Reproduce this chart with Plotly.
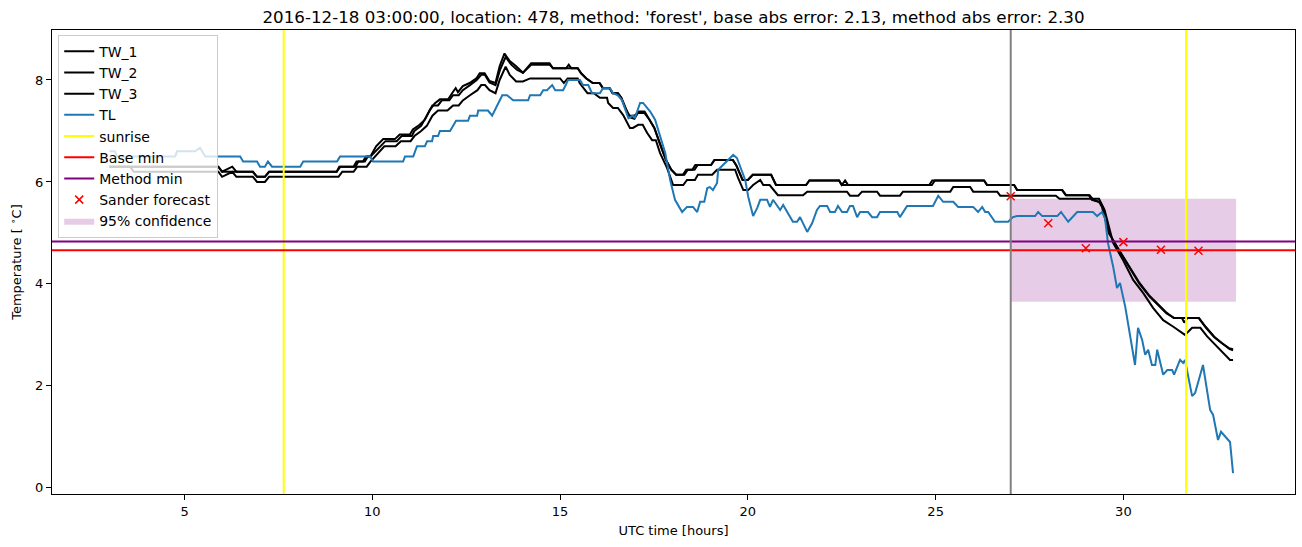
import plotly.graph_objects as go

# ---------------- data (hours UTC, temperature degC) ----------------
tl_hours = [3.0, 3.15, 3.2, 4.75, 4.8, 5.28, 5.41, 5.55, 6.48, 6.56, 6.93, 7.01, 7.14, 7.22, 7.33,
            8.08, 8.16, 9.06, 9.14, 9.94, 10.02, 10.82, 10.87, 11.09, 11.19, 11.4, 11.46, 11.59,
            11.62, 11.75, 11.8, 12.07, 12.23, 12.55, 12.6, 12.79, 12.82, 13.08, 13.19, 13.33,
            13.46, 13.59, 13.75, 14.15, 14.2, 14.47, 14.55, 14.65, 14.79, 14.87, 15.08, 15.15,
            15.21, 15.53, 15.61, 15.75, 15.85, 16.06, 16.14, 16.33, 16.41, 16.54, 16.65, 16.82,
            16.94, 16.99, 17.13, 17.21, 17.4, 17.53, 17.66, 17.8, 17.93, 18.06, 18.25, 18.38,
            18.54, 18.65, 18.73, 18.84, 18.92, 18.99, 19.07, 19.18, 19.21, 19.34, 19.47, 19.61,
            19.71, 19.79, 19.93, 20.01, 20.14, 20.25, 20.33, 20.51, 20.59, 20.67, 20.86, 20.94,
            20.99, 21.2, 21.31, 21.39, 21.58, 21.71, 21.84, 21.92, 22.11, 22.19, 22.32, 22.4,
            22.51, 22.64, 22.72, 22.8, 22.91, 22.99, 23.2, 23.31, 23.44, 23.52, 23.98, 24.05,
            24.24, 24.93, 25.07, 25.2, 25.47, 25.6, 26.0, 26.13, 26.24, 26.32, 26.4, 26.58,
            26.93, 27.06, 27.17, 27.65, 27.73, 27.84, 28.24, 28.34, 28.53, 28.77, 29.19, 29.3,
            29.43, 29.51, 29.59, 29.73, 29.83, 29.91, 30.05, 30.18, 30.31, 30.39, 30.5, 30.58,
            30.66, 30.76, 30.85, 30.9, 31.06, 31.17, 31.3, 31.35, 31.51, 31.59, 31.64, 31.83,
            31.91, 32.12, 32.31, 32.39, 32.52, 32.6, 32.84, 32.92]
tl_values = [6.6, 6.6, 6.5, 6.5, 6.6, 6.6, 6.67, 6.5, 6.5, 6.4, 6.4, 6.3, 6.3, 6.4, 6.3,
             6.3, 6.4, 6.4, 6.5, 6.5, 6.4, 6.4, 6.5, 6.5, 6.7, 6.7, 6.8, 6.8,
             6.9, 6.9, 7.0, 7.0, 7.2, 7.2, 7.3, 7.3, 7.4, 7.4, 7.3, 7.5,
             7.7, 7.7, 7.6, 7.6, 7.7, 7.7, 7.8, 7.8, 7.9, 7.8, 7.8, 7.9,
             8.0, 8.0, 7.9, 7.9, 7.74, 7.74, 7.84, 7.84, 7.74, 7.7, 7.6, 7.25,
             7.3, 7.25, 7.55, 7.55, 7.38, 7.22, 6.92, 6.57, 6.04, 5.65, 5.41, 5.51,
             5.51, 5.41, 5.61, 5.61, 5.88, 5.9, 5.84, 5.98, 6.24, 6.33, 6.43, 6.53,
             6.47, 6.3, 6.04, 5.71, 5.33, 5.49, 5.65, 5.65, 5.51, 5.65, 5.45, 5.55,
             5.49, 5.22, 5.22, 5.31, 5.02, 5.19, 5.45, 5.53, 5.53, 5.41, 5.41, 5.53,
             5.41, 5.41, 5.53, 5.53, 5.31, 5.41, 5.41, 5.31, 5.31, 5.41, 5.41, 5.31,
             5.53, 5.53, 5.73, 5.61, 5.61, 5.51, 5.51, 5.41, 5.51, 5.41, 5.41, 5.22,
             5.22, 5.31, 5.33, 5.33, 5.41, 5.33, 5.33, 5.41, 5.22, 5.41, 5.41, 5.33,
             5.41, 5.29, 4.8, 4.33, 3.92, 4.02, 3.55, 2.96, 2.41, 3.14, 2.9, 2.61,
             2.71, 2.41, 2.41, 2.71, 2.22, 2.31, 2.31, 2.22, 2.51, 2.45, 2.51, 1.8,
             1.86, 2.41, 1.53, 1.43, 0.94, 1.1, 0.9, 0.29]

tw1_hours = [3.0, 5.9, 6.0, 6.27, 6.38, 6.82, 6.93, 7.14, 7.25, 9.05, 9.12, 9.5, 9.58, 9.75,
             9.83, 9.95, 10.1, 10.29, 10.6, 10.73, 11.0, 11.08, 11.26, 11.4, 11.53, 11.66,
             11.8, 12.02, 12.15, 12.22, 12.28, 12.41, 12.59, 12.77, 12.86, 12.99, 13.12, 13.28,
             13.39, 13.52, 13.66, 13.83, 14.01, 14.23, 14.72, 14.81, 15.16, 15.23, 15.3, 15.47,
             15.56, 15.7, 15.87, 16.05, 16.14, 16.32, 16.4, 16.54, 16.63, 16.76, 16.85, 16.98,
             17.07, 17.25, 17.38, 17.51, 17.65, 17.82, 17.96, 18.09, 18.31, 18.4, 18.58, 18.66,
             19.02, 19.11, 19.6, 19.69, 19.86, 20.0, 20.13, 20.62, 20.75, 21.55, 21.64, 22.43,
             22.5, 22.59, 22.67, 24.83, 24.91, 26.29, 26.37, 27.09, 27.17, 28.37, 28.47, 29.08,
             29.16, 29.35, 29.43, 29.61, 29.88, 30.15, 30.41, 30.68, 30.94, 31.13, 31.34, 32.01,
             32.19, 32.41, 32.62, 32.81, 32.92]
tw1_values = [6.3, 6.3, 6.2, 6.3, 6.2, 6.2, 6.1, 6.1, 6.2, 6.2, 6.3, 6.3, 6.4, 6.4,
              6.5, 6.5, 6.7, 6.84, 6.84, 6.93, 6.93, 7.03, 7.12, 7.22, 7.41, 7.54,
              7.62, 7.62, 7.77, 7.84, 7.76, 7.88, 7.94, 8.03, 8.13, 8.13, 7.98, 7.94,
              8.27, 8.52, 8.37, 8.27, 8.14, 8.33, 8.33, 8.23, 8.23, 8.3, 8.23, 8.23,
              8.13, 8.03, 7.94, 7.94, 7.84, 7.84, 7.74, 7.74, 7.65, 7.41, 7.27, 7.24,
              7.35, 7.35, 7.22, 7.06, 6.76, 6.43, 6.24, 6.14, 6.14, 6.24, 6.24, 6.33,
              6.33, 6.43, 6.43, 6.33, 6.04, 6.04, 6.14, 6.14, 5.94, 5.94, 6.03, 6.03,
              5.94, 6.03, 5.94, 5.94, 6.03, 6.03, 5.94, 5.94, 5.84, 5.84, 5.74, 5.74,
              5.65, 5.61, 5.51, 5.0, 4.67, 4.34, 4.04, 3.78, 3.59, 3.45, 3.33, 3.33,
              3.16, 2.97, 2.84, 2.74, 2.72]

tw2_hours = [3.0, 5.9, 6.0, 6.82, 6.93, 7.14, 7.25, 9.05, 9.15, 9.55, 9.63, 9.8, 9.88, 9.95,
             10.35, 10.65, 10.78, 11.05, 11.12, 11.3, 11.45, 11.6, 11.75, 11.85, 12.05, 12.15,
             12.3, 12.41, 12.6, 12.78, 12.9, 13.0, 13.12, 13.28, 13.4, 13.55, 13.7, 13.85,
             14.01, 14.23, 14.72, 14.81, 15.16, 15.47, 15.56, 15.7, 15.87, 16.05, 16.14, 16.32,
             16.4, 16.54, 16.63, 16.76, 16.85, 16.98, 17.1, 17.25, 17.38, 17.51, 17.65, 17.82,
             17.96, 18.09, 18.27, 18.36, 18.52, 18.6, 19.02, 19.11, 19.6, 19.69, 19.86, 20.0,
             20.13, 20.62, 20.75, 21.55, 21.64, 22.43, 22.5, 24.9, 24.98, 26.29, 26.37, 27.09,
             27.17, 28.37, 28.47, 29.1, 29.2, 29.38, 29.46, 29.63, 29.9, 30.17, 30.43, 30.7,
             30.96, 31.15, 31.36, 31.56, 31.62, 31.7, 32.01, 32.2, 32.43, 32.64, 32.83, 32.92]
tw2_values = [6.3, 6.3, 6.2, 6.2, 6.1, 6.1, 6.2, 6.2, 6.3, 6.3, 6.4, 6.4, 6.5, 6.5,
              6.8, 6.8, 6.9, 6.9, 7.0, 7.1, 7.3, 7.5, 7.5, 7.6, 7.6, 7.7,
              7.7, 7.8, 7.9, 8.0, 8.1, 8.1, 7.95, 7.9, 8.2, 8.45, 8.3, 8.2,
              8.14, 8.3, 8.3, 8.23, 8.23, 8.23, 8.13, 8.03, 7.94, 7.94, 7.84, 7.84,
              7.74, 7.74, 7.65, 7.41, 7.3, 7.3, 7.38, 7.38, 7.22, 7.06, 6.76, 6.43,
              6.24, 6.14, 6.14, 6.24, 6.24, 6.33, 6.33, 6.43, 6.43, 6.33, 6.04, 6.04,
              6.14, 6.14, 5.94, 5.94, 6.03, 6.03, 5.94, 5.94, 6.03, 6.03, 5.94, 5.94,
              5.84, 5.84, 5.74, 5.74, 5.65, 5.6, 5.5, 4.98, 4.64, 4.3, 4.0, 3.75,
              3.56, 3.42, 3.33, 3.33, 3.24, 3.33, 3.33, 3.14, 2.95, 2.82, 2.72, 2.7]

tw3_hours = [3.0, 3.55, 3.65, 5.9, 6.0, 6.27, 6.38, 6.82, 6.93, 7.14, 7.25, 9.1, 9.2, 9.5,
             9.6, 9.85, 9.95, 10.32, 10.62, 10.76, 11.02, 11.12, 11.3, 11.45, 11.6, 11.75,
             12.0, 12.15, 12.3, 12.41, 12.6, 12.8, 12.9, 13.0, 13.12, 13.28, 13.39, 13.55,
             13.66, 13.83, 14.01, 14.2, 15.0, 15.1, 15.2, 15.47, 15.52, 15.73, 15.9, 16.06,
             16.25, 16.28, 16.41, 16.54, 16.68, 16.86, 16.94, 17.08, 17.2, 17.32, 17.45, 17.55,
             17.66, 17.85, 18.01, 18.28, 18.38, 18.59, 18.67, 19.05, 19.18, 19.66, 19.74, 19.88,
             20.01, 20.14, 20.33, 20.41, 20.58, 20.8, 21.47, 21.58, 22.64, 22.72, 22.94, 23.04,
             23.44, 23.52, 24.05, 24.13, 25.39, 25.47, 25.92, 26.0, 26.64, 26.72, 28.2, 28.3,
             29.35, 29.5, 29.73, 29.99, 30.26, 30.53, 30.79, 31.06, 31.33, 31.56, 31.64, 31.83,
             32.05, 32.23, 32.5, 32.66, 32.84, 32.92]
tw3_values = [6.3, 6.3, 6.2, 6.2, 6.1, 6.2, 6.1, 6.1, 6.0, 6.0, 6.1, 6.1, 6.2, 6.2,
              6.3, 6.3, 6.4, 6.7, 6.7, 6.8, 6.8, 6.9, 7.0, 7.1, 7.3, 7.4,
              7.4, 7.5, 7.5, 7.6, 7.7, 7.8, 7.9, 7.9, 7.8, 7.74, 8.0, 8.26,
              8.1, 7.97, 7.97, 8.03, 8.03, 7.94, 8.03, 8.03, 7.94, 7.74, 7.74, 7.65,
              7.65, 7.55, 7.45, 7.45, 7.31, 7.06, 7.06, 7.12, 7.12, 6.96, 6.82, 6.82,
              6.57, 6.27, 5.94, 5.94, 6.04, 6.04, 6.14, 6.14, 6.24, 6.24, 6.08, 5.84,
              5.84, 5.94, 6.04, 5.94, 5.94, 5.74, 5.74, 5.81, 5.81, 5.73, 5.73, 5.81,
              5.81, 5.73, 5.73, 5.81, 5.81, 5.9, 5.9, 5.81, 5.81, 5.73, 5.73, 5.67,
              5.67, 5.45, 4.8, 4.47, 4.08, 3.82, 3.53, 3.29, 3.16, 3.04, 3.0, 3.14,
              3.14, 2.97, 2.77, 2.64, 2.51, 2.51]

sunrise_hours = [7.64, 31.67]
forecast_time = 27.0
base_min = 4.66
method_min = 4.83
sander_hours = [27, 28, 29, 30, 31, 32]
sander_values = [5.72, 5.19, 4.70, 4.82, 4.67, 4.65]
conf_low = 3.65
conf_high = 5.67
conf_start = 27.0
conf_end = 33.0

title_text = ("2016-12-18 03:00:00, location: 478, method: 'forest', "
              "base abs error: 2.13, method abs error: 2.30")

X_RANGE = [1.47, 34.57]
Y_RANGE = [-0.12, 8.98]

# ---------------- figure ----------------
FONT = "DejaVu Sans"
fig = go.Figure()

# confidence box (drawn first, below lines)
fig.add_trace(go.Scatter(
    x=[conf_start, conf_end, conf_end, conf_start, conf_start],
    y=[conf_low, conf_low, conf_high, conf_high, conf_low],
    mode="lines", fill="toself", fillcolor="rgba(128,0,128,0.2)",
    line=dict(width=0, color="rgba(128,0,128,0.2)"),
    name="95% confidence", legendrank=9, hoverinfo="skip"))

for name, xs, ys, rank in [("TW_1", tw1_hours, tw1_values, 1),
                           ("TW_2", tw2_hours, tw2_values, 2),
                           ("TW_3", tw3_hours, tw3_values, 3)]:
    fig.add_trace(go.Scatter(x=xs, y=ys, mode="lines", name=name,
                             line=dict(color="black", width=2), legendrank=rank))

fig.add_trace(go.Scatter(x=tl_hours, y=tl_values, mode="lines", name="TL",
                         line=dict(color="#1f77b4", width=2), legendrank=4))

sx, sy = [], []
for h in sunrise_hours:
    sx += [h, h, None]
    sy += [Y_RANGE[0], Y_RANGE[1], None]
fig.add_trace(go.Scatter(x=sx, y=sy, mode="lines", name="sunrise",
                         line=dict(color="yellow", width=2), legendrank=5))

fig.add_trace(go.Scatter(x=X_RANGE, y=[base_min, base_min], mode="lines", name="Base min",
                         line=dict(color="red", width=2), legendrank=6))
fig.add_trace(go.Scatter(x=X_RANGE, y=[method_min, method_min], mode="lines",
                         name="Method min", line=dict(color="purple", width=2),
                         legendrank=7))

fig.add_trace(go.Scatter(x=[forecast_time, forecast_time], y=Y_RANGE, mode="lines",
                         line=dict(color="gray", width=2), showlegend=False))

fig.add_trace(go.Scatter(x=sander_hours, y=sander_values, mode="markers",
                         name="Sander forecast", legendrank=8,
                         marker=dict(symbol="x-thin", size=8, color="red",
                                     line=dict(color="red", width=1.5))))

axis_common = dict(showgrid=False, zeroline=False, showline=True, mirror=True,
                   linecolor="black", linewidth=1, ticks="outside", ticklen=5,
                   tickcolor="black", tickwidth=1,
                   tickfont=dict(family=FONT, size=13, color="black"))

fig.update_layout(
    width=1302, height=547,
    margin=dict(l=52, r=7, t=30, b=53),
    paper_bgcolor="white", plot_bgcolor="white",
    font=dict(family=FONT, color="black"),
    title=dict(text=title_text, x=0.5, xref="paper", xanchor="center",
               y=1 - 17 / 547, yref="container", yanchor="middle",
               font=dict(family=FONT, size=16.7, color="black")),
    xaxis=dict(range=X_RANGE, tickvals=[5, 10, 15, 20, 25, 30],
               title=dict(text="UTC time [hours]", standoff=8,
                          font=dict(family=FONT, size=13)), **axis_common),
    yaxis=dict(range=Y_RANGE, tickvals=[0, 2, 4, 6, 8],
               title=dict(text="Temperature [ <sup>∘</sup>C]", standoff=10,
                          font=dict(family=FONT, size=13)), **axis_common),
    legend=dict(x=0.005, y=0.99, xanchor="left", yanchor="top",
                bgcolor="rgba(255,255,255,0.8)", bordercolor="#cccccc", borderwidth=1,
                font=dict(family=FONT, size=14, color="black"),
                traceorder="normal"),
    showlegend=True,
)

fig.write_html("out.html")
